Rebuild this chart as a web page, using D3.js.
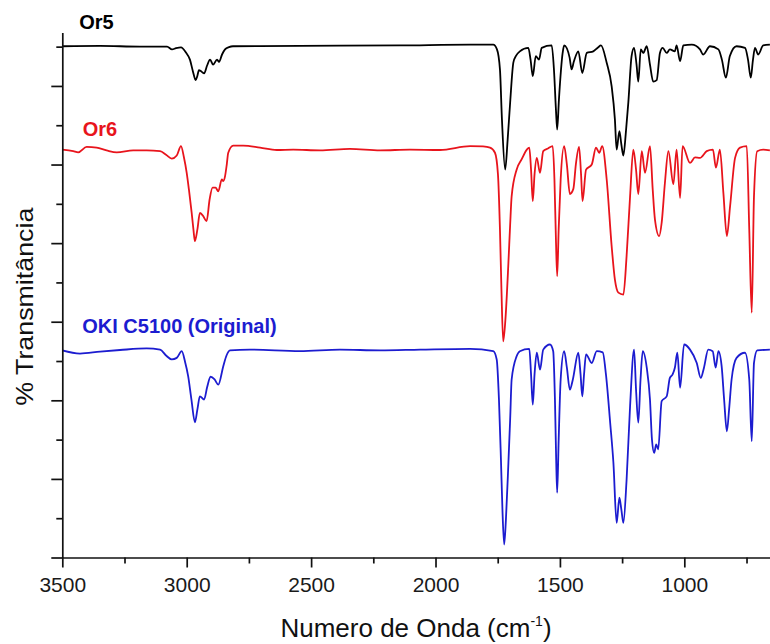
<!DOCTYPE html>
<html>
<head>
<meta charset="utf-8">
<script src="https://cdn.jsdelivr.net/npm/d3@7"></script>
<style>
  html, body { margin: 0; padding: 0; background: #fff; }
  svg { display: block; }
  text { font-family: Arial, "Liberation Sans", sans-serif; }
</style>
</head>
<body>
<svg id="chart" width="770" height="644"></svg>
<script>
// ---------------- DATA ----------------
const seriesNames = ["Or5", "Or6", "OKI C5100 (Original)"];
const seriesColors = ["#000000", "#e8141c", "#1c1cd0"];

// Or5 (black) – wavenumber (cm-1) and stacked transmittance value
const or5Wn = [3500,3348,3188,3079,3059,3043,3023,3003,2987,2975,2964,2957,2951,2941,2930,2918,2906,2894,2878,2870,2858,2846,2830,2814,2545,2143,1861,1768,1753,1741,1733,1720,1710,1700,1687,1676,1661,1627,1618,1609,1597,1584,1573,1533,1524,1516,1511,1504,1489,1483,1461,1453,1444,1426,1410,1392,1366,1347,1335,1312,1292,1279,1272,1261,1253,1245,1234,1225,1212,1202,1192,1185,1175,1165,1151,1138,1125,1111,1098,1087,1071,1058,1038,1031,1017,1004,970,937,924,897,863,849,833,817,790,756,744,733,724,716,703,683,656];
const or5Val = [130.1,130.2,130.0,130.0,129.3,129.6,129.8,128.5,126.7,123.7,121.5,122.6,124.0,123.7,123.2,125.2,126.7,125.4,126.7,126.1,128.0,129.3,129.9,130.1,130.2,130.3,130.5,130.5,129.3,124.2,111.5,98.7,106.4,115.8,126.0,127.7,128.8,129.7,126.7,122.5,127.6,126.7,129.7,130.3,124.2,114.0,108.9,116.5,128.4,130.3,127.2,124.2,126.2,128.8,123.3,128.4,128.8,129.8,130.3,125.9,119.9,111.5,103.8,108.5,105.1,102.3,108.9,115.8,127.6,129.7,125.4,121.1,129.3,128.4,130.1,125.4,121.1,121.5,128.4,129.7,128.4,129.3,128.8,130.3,126.3,130.3,130.5,129.3,128.0,130.1,129.3,126.7,122.1,127.6,130.1,129.7,126.7,122.1,126.7,129.7,128.0,130.3,130.5];

// Or6 (red)
const or6Wn = [3500,3456,3436,3402,3362,3322,3281,3215,3161,3107,3083,3060,3040,3023,3011,3000,2991,2980,2973,2967,2957,2947,2935,2920,2908,2896,2884,2873,2859,2853,2846,2839,2833,2813,2773,2705,2638,2572,2464,2344,2223,2103,1982,1861,1809,1781,1761,1749,1741,1735,1728,1719,1707,1700,1694,1674,1654,1633,1623,1616,1609,1602,1593,1580,1567,1548,1529,1522,1516,1511,1505,1497,1483,1472,1460,1446,1436,1423,1415,1409,1395,1372,1355,1342,1330,1312,1292,1279,1265,1245,1232,1218,1205,1194,1185,1171,1158,1138,1127,1118,1101,1091,1078,1064,1044,1031,1017,1007,977,957,937,910,885,873,857,843,829,816,796,776,749,739,729,720,707,683,656];
const or6Val = [103.8,103.4,103.1,104.5,104.3,103.6,103.1,103.6,103.6,103.4,102.5,101.5,102.3,104.7,101.8,97.9,93.6,87.7,83.5,80.5,83.5,87.7,87.0,85.6,91.1,94.1,94.1,93.2,96.2,95.8,97.0,100.0,103.0,104.8,104.8,104.3,103.7,103.8,103.6,104.0,103.6,103.8,103.7,104.7,104.6,104.3,103.0,97.5,83.5,68.2,55.0,60.6,75.0,84.7,91.9,98.7,101.3,103.8,104.3,98.7,90.7,97.5,101.7,97.9,103.4,104.1,104.7,96.2,80.9,71.6,83.5,96.2,104.7,100.0,92.5,93.8,100.0,104.5,97.5,90.7,98.7,100.0,104.3,103.0,104.7,96.2,79.2,70.7,67.4,66.9,76.7,91.9,103.8,98.7,92.5,103.4,97.9,104.7,93.6,86.0,81.8,85.2,95.3,103.4,95.0,103.8,91.5,104.7,100.4,101.8,101.7,103.4,103.8,99.2,103.8,92.8,81.8,89.4,101.7,104.3,104.7,83.5,62.3,91.9,103.4,103.8,103.6];

// OKI C5100 (Original) (blue)
const okiWn = [3500,3429,3348,3268,3161,3107,3083,3060,3040,3020,3007,2994,2981,2967,2957,2947,2930,2918,2904,2888,2873,2853,2840,2826,2746,2545,2384,2223,2062,1861,1768,1754,1745,1737,1731,1724,1717,1707,1700,1694,1674,1661,1623,1616,1609,1602,1593,1580,1567,1540,1527,1520,1515,1511,1505,1497,1483,1472,1460,1448,1426,1417,1410,1403,1395,1372,1352,1328,1315,1298,1285,1272,1261,1253,1245,1232,1218,1202,1194,1185,1176,1167,1151,1138,1130,1121,1113,1105,1091,1071,1058,1047,1038,1028,1017,1001,977,950,934,921,904,886,874,863,850,840,829,820,810,790,756,739,729,720,707,656];
const okiVal = [52.7,51.9,52.4,52.8,53.2,52.9,51.4,50.4,50.8,52.5,49.9,46.1,40.2,34.4,37.7,41.0,40.2,43.3,46.0,45.3,44.0,48.7,51.4,52.7,52.9,52.5,52.9,52.7,52.9,53.1,52.5,50.4,40.2,24.9,12.2,3.3,9.7,24.1,35.1,45.3,51.2,52.5,53.1,46.6,38.9,46.6,52.1,47.8,52.9,54.2,52.5,40.2,24.9,16.5,30.0,45.3,52.5,48.3,42.7,45.3,52.1,46.6,41.0,46.6,51.7,49.5,52.5,52.2,46.6,34.3,24.1,8.8,15.2,12.2,8.8,19.8,38.5,52.9,42.7,34.3,45.3,52.5,48.3,40.2,30.0,26.6,28.8,27.5,39.8,41.0,45.7,46.6,48.3,52.1,43.2,54.2,52.9,49.5,45.7,48.3,52.9,52.5,48.3,52.5,48.7,40.2,32.1,37.7,45.3,50.8,52.1,45.3,29.6,49.5,52.7,52.9];

// Label anchors (wavenumber, stacked value)
const labelWn = [3432, 3418, 3420];
const labelVal = [134.5, 107.2, 57.2];

// Axis ticks
const xMajorTicks = [3500, 3000, 2500, 2000, 1500, 1000];
const xMinorTicks = [3250, 2750, 2250, 1750, 1250, 750];
const yMajorTicks = [0, 20, 40, 60, 80, 100, 120];
const yMinorTicks = [10, 30, 50, 70, 90, 110, 130];

const xTitle = "Numero de Onda (cm";
const xTitleSup = "-1";
const yTitle = "% Transmitância";

// ---------------- CHART ----------------
const svg = d3.select("#chart");
const x = d3.scaleLinear().domain([3500, 650]).range([62.3, 771.4]);
const y = d3.scaleLinear().domain([0, 133.6]).range([557.5, 32.5]);

const series = [
  {wn: or5Wn, val: or5Val},
  {wn: or6Wn, val: or6Val},
  {wn: okiWn, val: okiVal}
];

const line = d3.line()
  .x(d => x(d[0]))
  .y(d => y(d[1]))
  .curve(d3.curveMonotoneX);

series.forEach((s, i) => {
  const pts = s.wn.map((w, j) => [w, s.val[j]]);
  svg.append("path")
    .datum(pts)
    .attr("fill", "none")
    .attr("stroke", seriesColors[i])
    .attr("stroke-width", 1.8)
    .attr("stroke-linejoin", "round")
    .attr("d", line);
});

// Axes
function styleAxis(g) {
  g.selectAll("path.domain").attr("stroke", "#111").attr("stroke-width", 1.7);
  g.selectAll(".tick line").attr("stroke", "#111").attr("stroke-width", 1.7);
}

const xAxisMinor = svg.append("g")
  .attr("transform", `translate(0,${y(0)})`)
  .call(d3.axisBottom(x).tickValues(xMinorTicks).tickSize(6).tickSizeOuter(0).tickFormat(""));
xAxisMinor.select("path.domain").remove();
styleAxis(xAxisMinor);

const xAxis = svg.append("g")
  .attr("transform", `translate(0,${y(0)})`)
  .call(d3.axisBottom(x).tickValues(xMajorTicks).tickSize(10).tickSizeOuter(0).tickPadding(9.5).tickFormat(d3.format("d")));
styleAxis(xAxis);
xAxis.selectAll(".tick text")
  .attr("fill", "#1a1a1a")
  .style("font-size", "21px");

const yAxisMinor = svg.append("g")
  .attr("transform", `translate(${x(3500)},0)`)
  .call(d3.axisLeft(y).tickValues(yMinorTicks).tickSize(6).tickSizeOuter(0).tickFormat(""));
yAxisMinor.select("path.domain").remove();
styleAxis(yAxisMinor);

const yAxis = svg.append("g")
  .attr("transform", `translate(${x(3500)},0)`)
  .call(d3.axisLeft(y).tickValues(yMajorTicks).tickSize(11).tickSizeOuter(0).tickFormat(""));
styleAxis(yAxis);

// Series labels
seriesNames.forEach((name, i) => {
  svg.append("text")
    .attr("x", x(labelWn[i]))
    .attr("y", y(labelVal[i]))
    .attr("fill", seriesColors[i])
    .style("font-size", "20px")
    .style("font-weight", "bold")
    .text(name);
});

// Axis titles
const xt = svg.append("text")
  .attr("x", 416)
  .attr("y", 637.3)
  .attr("text-anchor", "middle")
  .attr("fill", "#111")
  .style("font-size", "26px");
xt.append("tspan").text(xTitle);
xt.append("tspan").attr("dy", -11).style("font-size", "14px").text(xTitleSup);
xt.append("tspan").attr("dy", 11).text(")");

svg.append("text")
  .attr("transform", "translate(33,306.7) rotate(-90)")
  .attr("text-anchor", "middle")
  .attr("fill", "#111")
  .attr("textLength", 198)
  .attr("lengthAdjust", "spacingAndGlyphs")
  .style("font-size", "24px")
  .text(yTitle);
</script>
</body>
</html>
